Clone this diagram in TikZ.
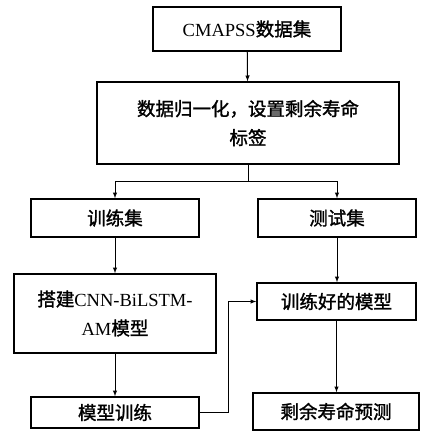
\documentclass[tikz,border=0pt]{standalone}
\usepackage{fontspec}
\setmainfont{Liberation Serif}
\newfontfamily\cjk{Noto Sans CJK SC}[FakeBold=1.5]
\newcommand{\zh}[1]{{\cjk #1}}
\begin{document}
\begin{tikzpicture}[x=1pt, y=-1pt, >=latex, line width=1pt,
    box/.style={draw, line width=1.4pt, inner sep=0pt, align=center,
      font=\fontsize{18.5}{29}\selectfont}]
    \useasboundingbox (0,0) rectangle (425,432);

    % Boxes
    \node[box, minimum width=188pt, minimum height=44pt] (data) at (247,29) {CMAPSS\zh{数据集}};
    \node[box, minimum width=302pt, minimum height=82pt] (prep) at (248,123) {\zh{数据归一化，设置剩余寿命}\\\zh{标签}};
    \node[box, minimum width=168pt, minimum height=38pt] (train) at (115,218) {\zh{训练集}};
    \node[box, minimum width=158pt, minimum height=38pt] (test) at (337,218) {\zh{测试集}};
    \node[box, minimum width=202pt, minimum height=79pt] (build) at (115,313.5) {\zh{搭建}CNN-BiLSTM-\\AM\zh{模型}};
    \node[box, minimum width=168pt, minimum height=31pt] (fit) at (115,412.5) {\zh{模型训练}};
    \node[box, minimum width=159pt, minimum height=37pt] (model) at (336.5,301.5) {\zh{训练好的模型}};
    \node[box, minimum width=166pt, minimum height=37pt] (pred) at (336,411.5) {\zh{剩余寿命预测}};

    % Arrows
    \draw[->] (data) -- (prep);
    \draw[->] (prep.south) -- ++(0,17) -| (train.north);
    \draw[->] (prep.south) -- ++(0,17) -| (test.north);
    \draw[->] (train) -- (build);
    \draw[->] (build) -- (fit);
    \draw[->] (test.south) -- (test.south |- model.north);
    \draw[->] (model.south) -- (model.south |- pred.north);
    \draw[->] (fit.east) -- ++(29,0) |- (model.west);
\end{tikzpicture}
\end{document}
